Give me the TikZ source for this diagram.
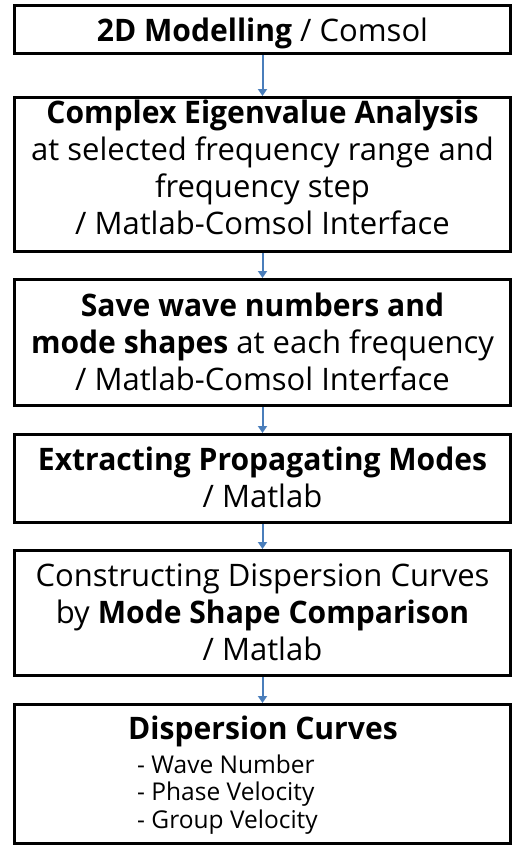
\documentclass[tikz,border=0pt]{standalone}
\usepackage{fontspec}
\setmainfont{Open Sans}[BoldFeatures={FakeStretch=0.97}]
\usetikzlibrary{arrows.meta}
\definecolor{arrowblue}{HTML}{4A7EBB}
\begin{document}
\begin{tikzpicture}[x=1pt,y=-1pt,
  box/.style={draw=black, line width=3pt, minimum width=496pt, inner sep=0pt, align=center},
  txt/.style={align=center, inner sep=0pt, anchor=base, font=\fontsize{31}{37}\selectfont},
  small/.style={align=left, inner sep=0pt, anchor=base west, font=\fontsize{24.5}{27.5}\selectfont},
  flow/.style={draw=arrowblue, line width=2pt, -{Triangle[length=7pt,width=9pt]}}]
\useasboundingbox (0,0) rectangle (516,846);
\node[box, minimum height=48pt]  (b1) at (262.5,29.5) {};
\node[box, minimum height=154pt] (b2) at (262.5,174.5) {};
\node[box, minimum height=126pt] (b3) at (262.5,342.5) {};
\node[box, minimum height=88pt]  (b4) at (262.5,478.5) {};
\node[box, minimum height=125pt] (b5) at (262.5,613) {};
\node[box, minimum height=139pt] (b6) at (262.5,774) {};

\node[txt] (t1) at (262.5,41) {\textbf{2D Modelling} / Comsol};
\node[txt] (t2) at (262.5,234) {\textbf{Complex Eigenvalue Analysis}\\at selected frequency range and\\frequency step\\/ Matlab-Comsol Interface};
\node[txt] (t3) at (262.5,390) {\textbf{Save wave numbers and}\\\textbf{mode shapes} at each frequency\\/ Matlab-Comsol Interface};
\node[txt] (t4) at (262.5,507) {\textbf{Extracting Propagating Modes}\\/ Matlab};
\node[txt] (t5) at (262.5,660) {Constructing Dispersion Curves\\by \textbf{Mode Shape Comparison}\\/ Matlab};
\node[txt] (t6) at (263,739) {\textbf{Dispersion Curves}};
\node[small] (l6) at (137,828) {- Wave Number\\- Phase Velocity\\- Group Velocity};

\draw[flow] (b1.south) -- (b2.north);
\draw[flow] (b2.south) -- (b3.north);
\draw[flow] (b3.south) -- (b4.north);
\draw[flow] (b4.south) -- (b5.north);
\draw[flow] (b5.south) -- (b6.north);
\end{tikzpicture}
\end{document}
